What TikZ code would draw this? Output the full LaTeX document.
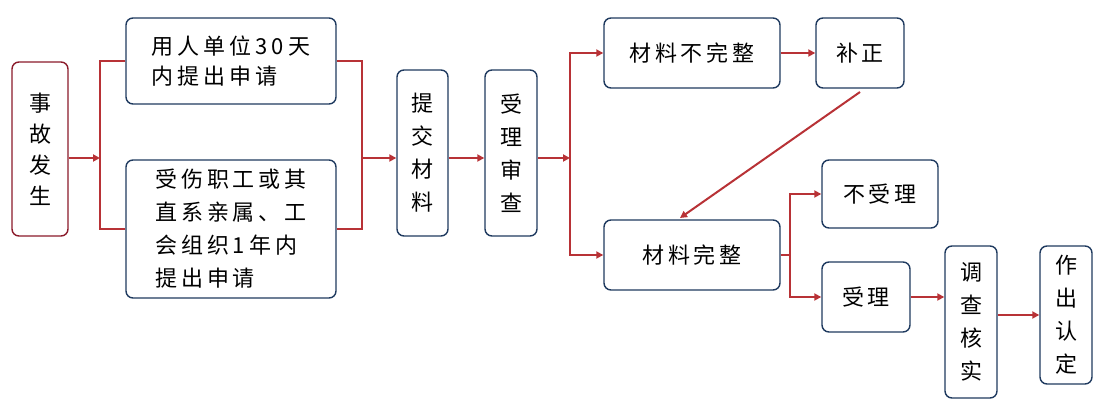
\documentclass[tikz,border=0pt]{standalone}
\usepackage{fontspec}
\setmainfont{Noto Sans CJK SC}[LetterSpace=18]
\usetikzlibrary{arrows.meta}
\definecolor{bx}{HTML}{1F3A5F}
\definecolor{rd}{HTML}{B83236}
\definecolor{rd2}{HTML}{8B1A2A}
\tikzset{
 box/.style={draw=bx,line width=1.4pt,rounded corners=7pt,fill=white,align=center,inner sep=0pt},
 ln/.style={draw=rd,line width=2pt},
 ar/.style={ln,-{Triangle[length=7pt,width=7pt]}}
}
\newcommand{\bxat}[6]{\node[box,#6,minimum width={(#4-#2)*1pt},minimum height={(#5-#3)*1pt}] (#1) at ({(#2+#4)/2},{(#3+#5)/2}) {};}
\begin{document}
\begin{tikzpicture}[x=1pt,y=-1pt]
\useasboundingbox (0,0) rectangle (1106,414);
\bxat{a}{12}{62}{68}{236}{draw=rd2}
\node[font=\fontsize{22}{31}\selectfont,align=center] at (a) {事\\故\\发\\生};
\bxat{b}{126}{18}{336}{104}{}
\node[font=\fontsize{22}{30}\selectfont,align=left] at (b) {用人单位30天\\内提出申请};
\bxat{c}{126}{160}{336}{298}{}
\node[font=\fontsize{22}{33}\selectfont,align=left] at (c) {受伤职工或其\\直系亲属、工\\会组织1年内\\提出申请};
\bxat{d}{397}{70}{448}{236}{}
\node[font=\fontsize{22}{33}\selectfont,align=center] at (d) {提\\交\\材\\料};
\bxat{e}{485}{70}{537}{236}{}
\node[font=\fontsize{22}{33}\selectfont,align=center] at (e) {受\\理\\审\\查};
\bxat{f}{604}{18}{780}{88}{}
\node[font=\fontsize{22}{28}\selectfont] at (f) {材料不完整};
\bxat{g}{816}{18}{904}{88}{}
\node[font=\fontsize{22}{28}\selectfont] at (g) {补正};
\bxat{h}{604}{220}{780}{290}{}
\node[font=\fontsize{22}{28}\selectfont] at (h) {材料完整};
\bxat{i}{822}{160}{938}{228}{}
\node[font=\fontsize{22}{28}\selectfont] at (i) {不受理};
\bxat{j}{822}{262}{910}{332}{}
\node[font=\fontsize{22}{28}\selectfont] at (j) {受理};
\bxat{k}{945}{246}{997}{398}{}
\node[font=\fontsize{22}{33}\selectfont,align=center] at (k) {调\\查\\核\\实};
\bxat{l}{1040}{246}{1092}{384}{}
\node[font=\fontsize{22}{33}\selectfont,align=center] at (l) {作\\出\\认\\定};
\coordinate (j1) at (100,158);
\draw[ar] (a.east|-j1) -- (j1);
\draw[ln] (b.west) -| (j1) |- (c.west);
\coordinate (j2) at (362,158);
\draw[ln] (b.east) -| (j2) |- (c.east);
\draw[ar] (j2) -- (d.west|-j2);
\draw[ar] (d.east|-j2) -- (e.west|-j2);
\coordinate (j3) at (570,158);
\draw[ar] (e.east|-j3) -- (j3);
\draw[ar] (j3) |- (f.west);
\draw[ar] (j3) |- (h.west);
\draw[ar] (f.east) -- (g.west);
\draw[ar] (860,92) -- (680,218);
\coordinate (j4) at (790,255);
\draw[ln] (h.east) -- (j4);
\draw[ar] (j4) |- (i.west);
\draw[ar] (j4) |- (j.west);
\draw[ar] (j.east) -- (k.west|-j.east);
\draw[ar] (k.east|-0,315) -- (l.west|-0,315);
\end{tikzpicture}
\end{document}
